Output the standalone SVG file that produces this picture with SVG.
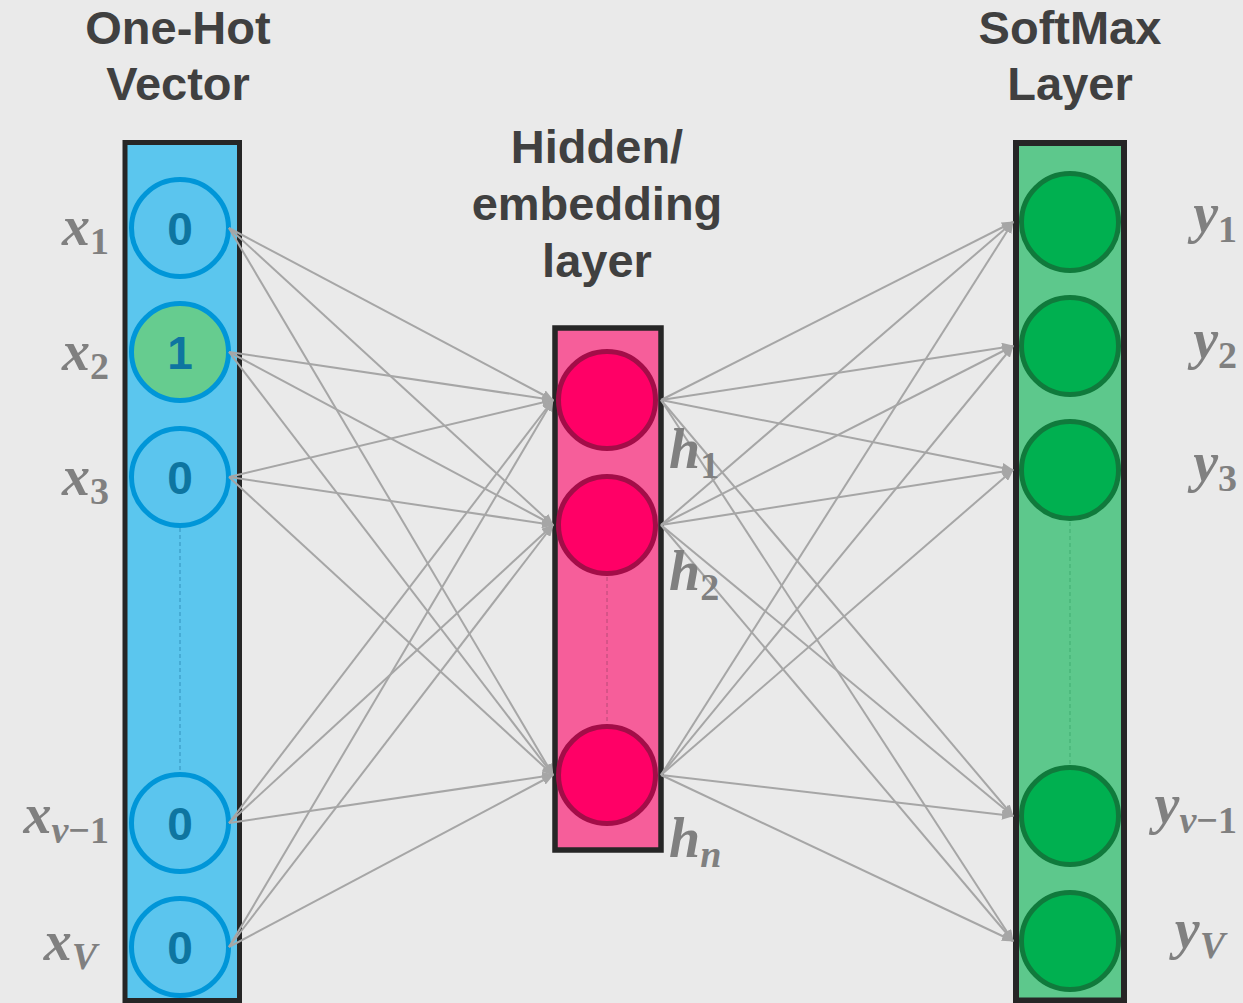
<svg xmlns="http://www.w3.org/2000/svg" width="1243" height="1003" viewBox="0 0 1243 1003">
<defs>
<marker id="ah" markerUnits="userSpaceOnUse" markerWidth="12" markerHeight="10" refX="11" refY="5" orient="auto">
<path d="M0,0 L12,5 L0,10 z" fill="#A6A6A6"/>
</marker>
<style>
.title{font-family:"Liberation Sans",Arial,sans-serif;font-weight:bold;font-size:47px;fill:#404040;text-anchor:middle}
.lbl{font-family:"Liberation Serif","Times New Roman",serif;font-weight:bold;font-style:italic;font-size:56px;fill:#808080}
.sub{font-size:38px}
.up{font-style:normal}
.num{font-family:"Liberation Sans",Arial,sans-serif;font-weight:bold;font-size:46px;fill:#0E75A0;text-anchor:middle}
.frame{stroke:#262626}
.cin{fill:#5BC5EE;stroke:#0096D8;stroke-width:5}
.chid{fill:#FF0066;stroke:#A30D48;stroke-width:5}
.cout{fill:#00B050;stroke:#107A3C;stroke-width:5}
.conn line{stroke:#A6A6A6;stroke-width:2;marker-end:url(#ah)}
.dash{stroke-width:1.2;stroke-dasharray:4 3;fill:none}
</style>
</defs>
<rect width="1243" height="1003" fill="#EAEAEA"/>

<!-- titles -->
<g id="title-input">
<text class="title" x="178" y="44">One-Hot</text>
<text class="title" x="178" y="100">Vector</text>
</g>
<g id="title-hidden">
<text class="title" x="597" y="163">Hidden/</text>
<text class="title" x="597" y="220">embedding</text>
<text class="title" x="597" y="277">layer</text>
</g>
<g id="title-output">
<text class="title" x="1070" y="44">SoftMax</text>
<text class="title" x="1070" y="100">Layer</text>
</g>

<!-- layer frames -->
<g id="layer-input">
<rect class="frame" x="125" y="142.5" width="114.5" height="858" fill="#5BC6EE" stroke-width="5"/>
<line class="dash" x1="180" y1="528" x2="180" y2="772" stroke="#3A9CC6"/>
</g>
<g id="layer-hidden">
<rect class="frame" x="555" y="328" width="106" height="522" fill="#F65E9A" stroke-width="5.5"/>
<line class="dash" x1="607" y1="577" x2="607" y2="724" stroke="#C44E7E"/>
</g>
<g id="layer-output">
<rect class="frame" x="1016" y="143" width="108" height="857.5" fill="#5DC88C" stroke-width="6"/>
<line class="dash" x1="1070" y1="522" x2="1070" y2="765" stroke="#45B276"/>
</g>

<!-- input nodes -->
<g id="x1"><circle class="cin" cx="180" cy="228" r="48.5"/><text class="num" x="180" y="245">0</text></g>
<g id="x2"><circle class="cin" cx="180" cy="352" r="48.5" style="fill:#66CC8F"/><text class="num" x="180" y="369">1</text></g>
<g id="x3"><circle class="cin" cx="180" cy="477" r="48.5"/><text class="num" x="180" y="494">0</text></g>
<g id="xv1"><circle class="cin" cx="180" cy="823" r="48.5"/><text class="num" x="180" y="840">0</text></g>
<g id="xV"><circle class="cin" cx="180" cy="947" r="48.5"/><text class="num" x="180" y="964">0</text></g>

<!-- hidden nodes -->
<g id="h1"><circle class="chid" cx="607" cy="400" r="48.5"/></g>
<g id="h2"><circle class="chid" cx="607" cy="525" r="48.5"/></g>
<g id="hn"><circle class="chid" cx="607" cy="775" r="48.5"/></g>

<!-- output nodes -->
<g id="y1"><circle class="cout" cx="1070" cy="222" r="48.5"/></g>
<g id="y2"><circle class="cout" cx="1070" cy="346" r="48.5"/></g>
<g id="y3"><circle class="cout" cx="1070" cy="470" r="48.5"/></g>
<g id="yv1"><circle class="cout" cx="1070" cy="816" r="48.5"/></g>
<g id="yV"><circle class="cout" cx="1070" cy="941" r="48.5"/></g>

<!-- connectors -->
<g id="connectors" class="conn">
<line x1="229" y1="228" x2="553" y2="400"/>
<line x1="229" y1="228" x2="553" y2="525"/>
<line x1="229" y1="228" x2="553" y2="775"/>
<line x1="229" y1="352" x2="553" y2="400"/>
<line x1="229" y1="352" x2="553" y2="525"/>
<line x1="229" y1="352" x2="553" y2="775"/>
<line x1="229" y1="477" x2="553" y2="400"/>
<line x1="229" y1="477" x2="553" y2="525"/>
<line x1="229" y1="477" x2="553" y2="775"/>
<line x1="229" y1="823" x2="553" y2="400"/>
<line x1="229" y1="823" x2="553" y2="525"/>
<line x1="229" y1="823" x2="553" y2="775"/>
<line x1="229" y1="947" x2="553" y2="400"/>
<line x1="229" y1="947" x2="553" y2="525"/>
<line x1="229" y1="947" x2="553" y2="775"/>
<line x1="661" y1="400" x2="1013" y2="222"/>
<line x1="661" y1="400" x2="1013" y2="346"/>
<line x1="661" y1="400" x2="1013" y2="470"/>
<line x1="661" y1="400" x2="1013" y2="816"/>
<line x1="661" y1="400" x2="1013" y2="941"/>
<line x1="661" y1="525" x2="1013" y2="222"/>
<line x1="661" y1="525" x2="1013" y2="346"/>
<line x1="661" y1="525" x2="1013" y2="470"/>
<line x1="661" y1="525" x2="1013" y2="816"/>
<line x1="661" y1="525" x2="1013" y2="941"/>
<line x1="661" y1="775" x2="1013" y2="222"/>
<line x1="661" y1="775" x2="1013" y2="346"/>
<line x1="661" y1="775" x2="1013" y2="470"/>
<line x1="661" y1="775" x2="1013" y2="816"/>
<line x1="661" y1="775" x2="1013" y2="941"/>
</g>

<!-- labels -->
<g id="labels">
<text class="lbl" x="109" y="245" text-anchor="end">x<tspan class="sub up" dy="9">1</tspan></text>
<text class="lbl" x="109" y="370" text-anchor="end">x<tspan class="sub up" dy="9">2</tspan></text>
<text class="lbl" x="109" y="495" text-anchor="end">x<tspan class="sub up" dy="9">3</tspan></text>
<text class="lbl" x="109" y="833" text-anchor="end">x<tspan class="sub" dy="10">v</tspan><tspan class="sub up">−1</tspan></text>
<text class="lbl" x="97" y="960" text-anchor="end">x<tspan class="sub" dy="9">V</tspan></text>
<text class="lbl" x="669" y="468">h<tspan class="sub up" dy="10">1</tspan></text>
<text class="lbl" x="669" y="590">h<tspan class="sub up" dy="10">2</tspan></text>
<text class="lbl" x="669" y="857">h<tspan class="sub" dy="10">n</tspan></text>
<text class="lbl" x="1237" y="232" text-anchor="end">y<tspan class="sub up" dy="10">1</tspan></text>
<text class="lbl" x="1237" y="358" text-anchor="end">y<tspan class="sub up" dy="10">2</tspan></text>
<text class="lbl" x="1237" y="481" text-anchor="end">y<tspan class="sub up" dy="10">3</tspan></text>
<text class="lbl" x="1237" y="823" text-anchor="end">y<tspan class="sub" dy="10">v</tspan><tspan class="sub up">−1</tspan></text>
<text class="lbl" x="1225" y="948" text-anchor="end">y<tspan class="sub" dy="10">V</tspan></text>
</g>
</svg>
